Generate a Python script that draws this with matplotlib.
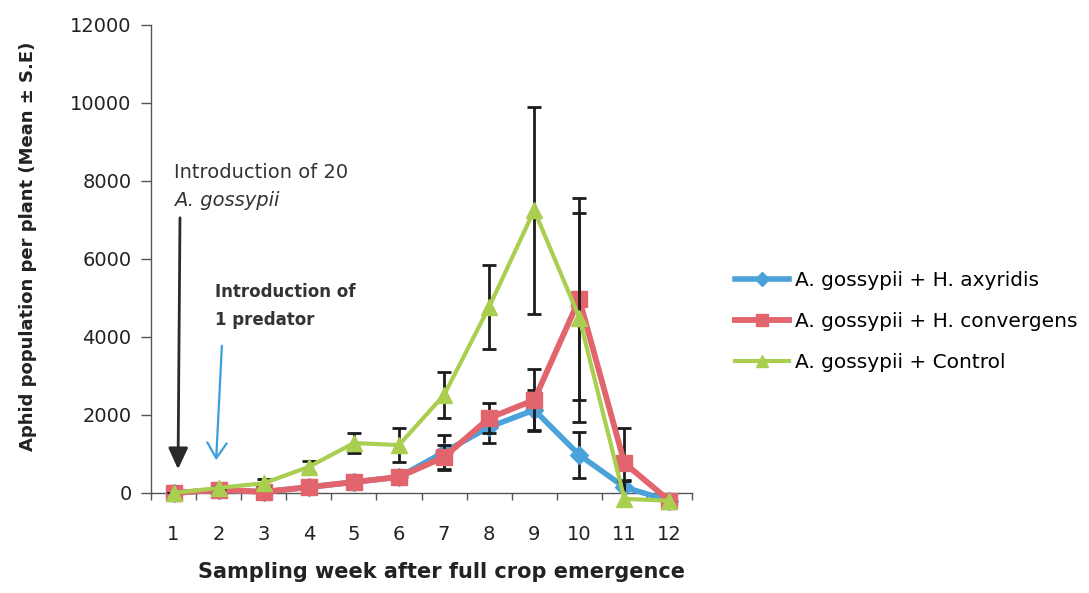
import matplotlib
matplotlib.use("Agg")
import matplotlib.pyplot as plt
from matplotlib.patches import FancyArrowPatch
import numpy as np

plt.rcParams['font.family'] = ['DejaVu Sans']

weeks = [1, 2, 3, 4, 5, 6, 7, 8, 9, 10, 11, 12]
week_labels = ["1", "2", "3", "4", "5", "6", "7", "8", "9", "10", "11", "12"]

axyridis = [0, 80, 30, 150, 280, 410, 1050, 1690, 2130, 975, 150, -200]
axyridis_se = [10, 20, 20, 40, 60, 80, 450, 410, 515, 590, 180, 20]

convergens = [0, 80, 30, 150, 280, 410, 920, 1920, 2385, 4970, 770, -200]
convergens_se = [10, 20, 20, 40, 60, 80, 300, 390, 800, 2590, 900, 20]

control = [0, 130, 250, 670, 1280, 1230, 2510, 4770, 7250, 4500, -150, -200]
control_se = [10, 30, 100, 150, 250, 430, 590, 1075, 2650, 2680, 450, 20]

series_names = ["A. gossypii + H. axyridis",
                "A. gossypii + H. convergens",
                "A. gossypii + Control"]
yticks = [0, 2000, 4000, 6000, 8000, 10000, 12000]

W, H = 1089, 593
fig = plt.figure(figsize=(W / 100, H / 100), dpi=100)


def fp(x, y):
    return (x / W, 1 - y / H)


ax = fig.add_axes([151 / W, 1 - 493 / H, (692 - 151) / W, (493 - 25) / H])

blue = "#4BA2DA"
red = "#E2646C"
green = "#AACF50"
ecol = "#1c1c1c"

styles = [
    (axyridis, axyridis_se, blue, "D", 9, 4.0),
    (convergens, convergens_se, red, "s", 11.5, 4.2),
    (control, control_se, green, "^", 11.5, 3.0),
]
handles = []
for i, (vals, se, col, mk, ms, lw) in enumerate(styles):
    ax.errorbar(weeks, vals, yerr=se, fmt="none", ecolor=ecol, elinewidth=2.0,
                capsize=5, capthick=2.0, zorder=2 + i * 2, clip_on=True)
    ln, = ax.plot(weeks, vals, color=col, lw=lw, marker=mk, markersize=ms,
                  markeredgecolor=col, zorder=3 + i * 2, clip_on=False,
                  label=series_names[i])
    handles.append(ln)

ax.set_xlim(0.5, 12.5)
ax.set_ylim(0, 12000)
ax.set_yticks(yticks)
ax.set_yticklabels([str(v) for v in yticks])
ax.set_xticks(weeks)
ax.set_xticklabels(week_labels)
ax.set_xticks(np.arange(0.5, 13, 1), minor=True)

for s in ["top", "right"]:
    ax.spines[s].set_visible(False)
for s in ["left", "bottom"]:
    ax.spines[s].set_color("#555555")
    ax.spines[s].set_linewidth(1.0)

ax.tick_params(axis="y", direction="out", length=7, width=1, color="#555555",
               pad=7, labelsize=14, labelcolor="#222222")
ax.tick_params(axis="x", which="major", length=0, pad=23, labelsize=14,
               labelcolor="#222222")
ax.tick_params(axis="x", which="minor", direction="out", length=5, width=1,
               color="#555555")

fig.text(*fp(28, 246), "Aphid population per plant (Mean \u00b1 S.E)",
         rotation=90, ha="center", va="center", fontsize=13, fontweight="bold",
         color="#222222")
fig.text(*fp(442, 572), "Sampling week after full crop emergence",
         ha="center", va="center", fontsize=15, fontweight="bold",
         color="#222222")

# annotations
fig.text(*fp(174, 172), "Introduction of 20", ha="left", va="center",
         fontsize=14, color="#333333")
fig.text(*fp(174, 200), "A. gossypii", ha="left", va="center",
         fontsize=14, style="italic", color="#333333")
fig.text(*fp(215, 292), "Introduction of", ha="left", va="center",
         fontsize=12, fontweight="bold", color="#333333")
fig.text(*fp(215, 320), "1 predator", ha="left", va="center",
         fontsize=12, fontweight="bold", color="#333333")

a1 = FancyArrowPatch(fp(180, 215), fp(178, 472), transform=fig.transFigure,
                     arrowstyle="-|>,head_length=0.65,head_width=0.3",
                     mutation_scale=20, color="#2a2a2a", lw=2.0)
fig.add_artist(a1)
a2 = FancyArrowPatch(fp(222, 343), fp(216, 463), transform=fig.transFigure,
                     arrowstyle="->,head_length=0.55,head_width=0.35",
                     mutation_scale=20, color="#3C9FDC", lw=1.6)
fig.add_artist(a2)

fig.legend(handles=handles, loc="center left",
           bbox_to_anchor=fp(735, 321.5), bbox_transform=fig.transFigure,
           frameon=False, fontsize=14.5, handlelength=2.7, handletextpad=0.3,
           labelspacing=1.1, borderpad=0, borderaxespad=0, markerscale=0.8)

fig.savefig("out.png", dpi=100)
